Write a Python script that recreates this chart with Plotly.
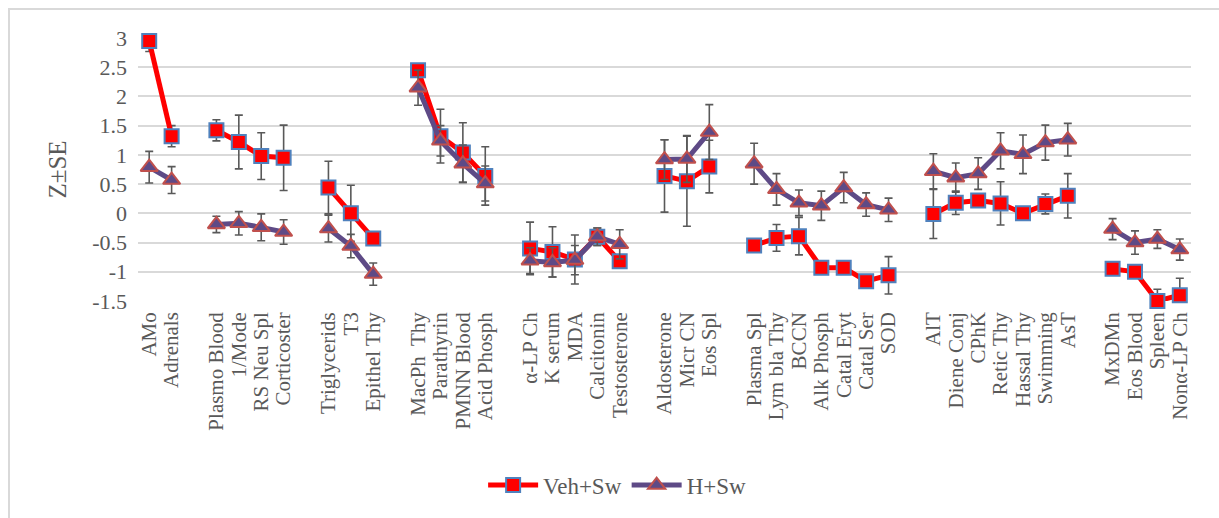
import plotly.graph_objects as go

# Category axis; single/multiple spaces are empty separator slots between groups
categories = [
    "AMo", "Adrenals", " ",
    "Plasmo Blood", "1/Mode", "RS Neu Spl", "Corticoster", "  ",
    "Triglycerids", "T3", "Epithel Thy", "   ",
    "MacPh  Thy", "Parathyrin", "PMNN Blood", "Acid Phosph", "    ",
    "α-LP Ch", "K serum", "MDA", "Calcitonin", "Testosterone", "     ",
    "Aldosterone", "Micr CN", "Eos Spl", "      ",
    "Plasma Spl", "Lym bla Thy", "BCCN", "Alk Phosph", "Catal Eryt", "Catal Ser", "SOD", "       ",
    "AlT", "Diene Conj", "CPhK", "Retic Thy", "Hassal Thy", "Swimming", "AsT", "        ",
    "MxDMn", "Eos Blood", "Spleen", "Nonα-LP Ch",
]

veh_sw = [
    2.95, 1.32, None,
    1.42, 1.22, 0.98, 0.95, None,
    0.44, 0.00, -0.43, None,
    2.45, 1.32, 1.04, 0.64, None,
    -0.60, -0.66, -0.79, -0.40, -0.82, None,
    0.64, 0.55, 0.80, None,
    -0.55, -0.42, -0.39, -0.93, -0.93, -1.16, -1.06, None,
    -0.01, 0.18, 0.22, 0.17, 0.00, 0.16, 0.30, None,
    -0.95, -1.00, -1.50, -1.40,
]
veh_sw_se = [
    0.18, 0.18, None,
    0.18, 0.46, 0.40, 0.56, None,
    0.45, 0.48, 0.05, None,
    0.05, 0.46, 0.51, 0.50, None,
    0.45, 0.43, 0.42, 0.15, 0.05, None,
    0.62, 0.77, 0.45, None,
    0.05, 0.23, 0.32, 0.07, 0.07, 0.05, 0.32, None,
    0.42, 0.20, 0.05, 0.37, 0.05, 0.17, 0.38, None,
    0.05, 0.05, 0.20, 0.29,
]

h_sw = [
    0.79, 0.57, None,
    -0.19, -0.17, -0.24, -0.32, None,
    -0.26, -0.56, -1.04, None,
    2.15, 1.24, 0.85, 0.51, None,
    -0.81, -0.84, -0.80, -0.40, -0.53, None,
    0.92, 0.93, 1.39, None,
    0.85, 0.41, 0.18, 0.13, 0.44, 0.15, 0.06, None,
    0.72, 0.61, 0.68, 1.07, 1.01, 1.21, 1.26, None,
    -0.27, -0.50, -0.44, -0.62,
]
h_sw_se = [
    0.27, 0.23, None,
    0.14, 0.20, 0.23, 0.21, None,
    0.23, 0.20, 0.19, None,
    0.30, 0.26, 0.32, 0.30, None,
    0.22, 0.25, 0.25, 0.15, 0.25, None,
    0.34, 0.40, 0.47, None,
    0.35, 0.27, 0.22, 0.25, 0.26, 0.20, 0.20, None,
    0.30, 0.25, 0.27, 0.31, 0.33, 0.30, 0.28, None,
    0.18, 0.20, 0.16, 0.18,
]

y_ticks = [3, 2.5, 2, 1.5, 1, 0.5, 0, -0.5, -1, -1.5]
y_tick_text = ["3", "2.5", "2", "1.5", "1", "0.5", "0", "-0.5", "-1", "-1.5"]

SERIF = "Liberation Serif"
TEXT = "#595959"
GRID = "#D9D9D9"
ERR = "#595959"

fig = go.Figure()

fig.add_trace(go.Scatter(
    x=categories, y=veh_sw, name="Veh+Sw", mode="lines+markers",
    line=dict(color="#FF0000", width=5),
    marker=dict(symbol="square", size=14, color="#FF0000",
                line=dict(color="#4F81BD", width=2)),
    error_y=dict(type="data", array=veh_sw_se, color=ERR, thickness=1.6, width=4),
    connectgaps=False, cliponaxis=False,
))

fig.add_trace(go.Scatter(
    x=categories, y=h_sw, name="H+Sw", mode="lines+markers",
    line=dict(color="#5E4A86", width=5),
    marker=dict(symbol="triangle-up", size=15, color="#5E4A86",
                line=dict(color="#C0504D", width=2)),
    error_y=dict(type="data", array=h_sw_se, color=ERR, thickness=1.6, width=4),
    connectgaps=False, cliponaxis=False,
))

# light chart-area frame
fig.add_shape(type="rect", xref="paper", yref="paper",
              x0=-0.1225, x1=1.04, y0=-0.86, y1=1.11,
              line=dict(color=GRID, width=2), layer="below")

fig.update_layout(
    width=1219, height=518,
    margin=dict(l=138, r=28, t=38, b=217),
    paper_bgcolor="white", plot_bgcolor="white",
    font=dict(family=SERIF, color=TEXT, size=21),
    showlegend=True,
    legend=dict(orientation="h", x=0.455, xanchor="center", y=-0.70, yanchor="middle",
                font=dict(family=SERIF, size=23, color=TEXT),
                itemwidth=50, tracegroupgap=0),
    xaxis=dict(
        type="category", categoryorder="array", categoryarray=categories,
        tickmode="array", tickvals=categories, ticktext=categories,
        tickangle=-90, tickfont=dict(family=SERIF, size=21, color=TEXT),
        showgrid=False, showline=False, ticks="", ticklabelstandoff=6,
        range=[-0.5, len(categories) - 0.5],
    ),
    yaxis=dict(
        range=[-1.5, 3], tickvals=y_ticks, ticktext=y_tick_text,
        tickfont=dict(family=SERIF, size=22, color=TEXT),
        showgrid=True, gridcolor=GRID, gridwidth=1.5,
        zeroline=False, showline=False, ticks="", ticklabelstandoff=10,
        title=dict(text="Z±SE", font=dict(family=SERIF, size=25, color=TEXT), standoff=18),
    ),
)

fig.write_html("out.html")
